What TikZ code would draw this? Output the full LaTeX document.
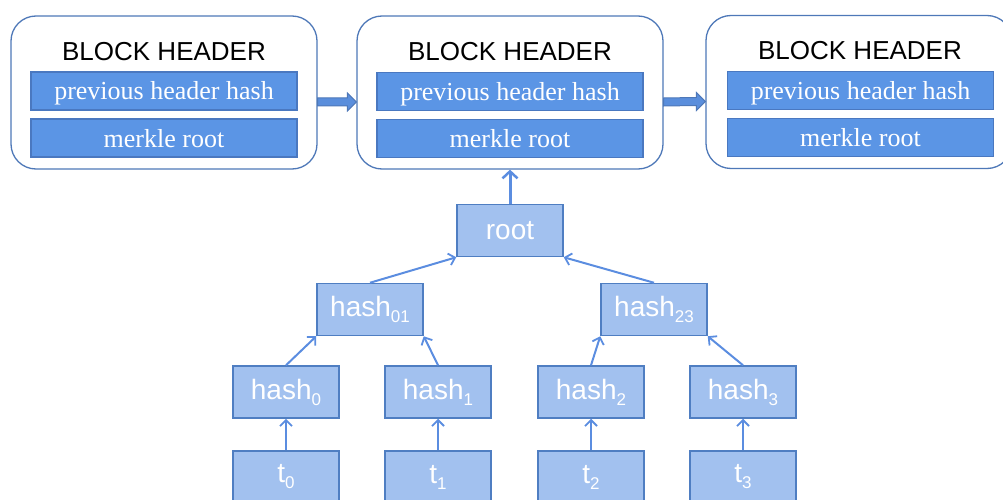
\documentclass[tikz,border=0pt]{standalone}
\usepackage{fontspec}
\setmainfont{Liberation Serif}
\setsansfont{Liberation Sans}
\usetikzlibrary{arrows.meta,calc}

\definecolor{frameline}{HTML}{4E78B8}
\definecolor{barfill}{HTML}{5B95E5}
\definecolor{barline}{HTML}{4A78C0}
\definecolor{treefill}{HTML}{A2C1EF}
\definecolor{treeline}{HTML}{4F7EC2}
\definecolor{linkline}{HTML}{5B8DE0}
\definecolor{chainfill}{HTML}{5A8EDC}

% subscript index in the tree labels
\newcommand{\subidx}[1]{\raisebox{-6pt}{\fontsize{17}{17}\selectfont #1}}

\tikzset{
  headerframe/.style={draw=frameline, line width=1.3pt, fill=white,
    rounded corners=25pt, minimum width=306pt, minimum height=153pt, inner sep=0pt},
  headertitle/.style={font=\sffamily\fontsize{26}{26}\selectfont, text=black, anchor=base, inner sep=0pt},
  field/.style={draw=barline, line width=1.2pt, fill=barfill, text=white,
    minimum width=266pt, minimum height=38pt, inner sep=0pt,
    text height=18pt, text depth=0pt, font=\fontsize{26}{26}\selectfont},
  hashbox/.style={draw=treeline, line width=1.5pt, fill=treefill, text=white,
    minimum width=106pt, minimum height=52pt, inner sep=0pt,
    font=\sffamily\fontsize{28}{28}\selectfont},
  link/.style={draw=linkline, line width=2pt, -{Straight Barb[length=6pt,width=12pt,line width=1.8pt]}},
  rootlink/.style={draw=linkline, line width=3pt, -{Straight Barb[length=7pt,width=15pt,line width=2.5pt]}},
  chainarrow/.style={fill=chainfill, draw=frameline, line width=1pt},
}

\begin{document}
\begin{tikzpicture}[x=1pt, y=-1pt]
\useasboundingbox (0,0) rectangle (1003,500);
\clip (0,0) rectangle (1003,500);

% block headers
\node[headerframe] (blk1) at (164,92.5) {};
\node[headerframe] (blk2) at (510,92.5) {};
\node[headerframe] (blk3) at (859,92) {};

\node[headertitle] (title1) at (164,61) {BLOCK HEADER};
\node[headertitle] (title2) at (510,61) {BLOCK HEADER};
\node[headertitle] (title3) at (860,60) {BLOCK HEADER};

\node[field] (prev1) at (164,91) {previous header hash};
\node[field] (mr1) at (164,138) {merkle root};
\node[field] (prev2) at (510,91.5) {previous header hash};
\node[field] (mr2) at (510,138.5) {merkle root};
\node[field] (prev3) at (860.5,90.5) {previous header hash};
\node[field] (mr3) at (860.5,137.5) {merkle root};

% chain arrows between consecutive headers
\foreach \a/\b in {blk1/blk2, blk2/blk3}{
  \coordinate (s) at ($(\a.east)+(0,9.5)$);
  \coordinate (e) at ($(\b.west)+(0,9.5)$);
  \path[chainarrow] ($(s)+(0,-4)$) -- ($(e)+(-9,-4)$) -- ($(e)+(-9,-9)$) -- (e)
    -- ($(e)+(-9,9)$) -- ($(e)+(-9,4)$) -- ($(s)+(0,4)$) -- cycle;
}

% merkle tree
\node[hashbox] (root) at (510,230.5) {root};
\node[hashbox] (h01) at (370,309.5) {hash\subidx{01}};
\node[hashbox] (h23) at (654,309.5) {hash\subidx{23}};
\node[hashbox] (h0) at (286,392) {hash\subidx{0}};
\node[hashbox] (h1) at (438,392) {hash\subidx{1}};
\node[hashbox] (h2) at (591,392) {hash\subidx{2}};
\node[hashbox] (h3) at (743,392) {hash\subidx{3}};
\node[hashbox] (t0) at (286,477) {t\subidx{0}};
\node[hashbox] (t1) at (438,477) {t\subidx{1}};
\node[hashbox] (t2) at (591,477) {t\subidx{2}};
\node[hashbox] (t3) at (743,477) {t\subidx{3}};

\draw[rootlink] (root.north) -- (blk2.south);
\draw[link] (h01.north) -- (root.south west);
\draw[link] (h23.north) -- (root.south east);
\draw[link] (h0.north) -- (h01.south west);
\draw[link] (h1.north) -- (h01.south east);
\draw[link] (h2.north) -- (h23.south west);
\draw[link] (h3.north) -- (h23.south east);
\foreach \i in {0,1,2,3}{
  \draw[link] (t\i.north) -- (h\i.south);
}
\end{tikzpicture}
\end{document}
